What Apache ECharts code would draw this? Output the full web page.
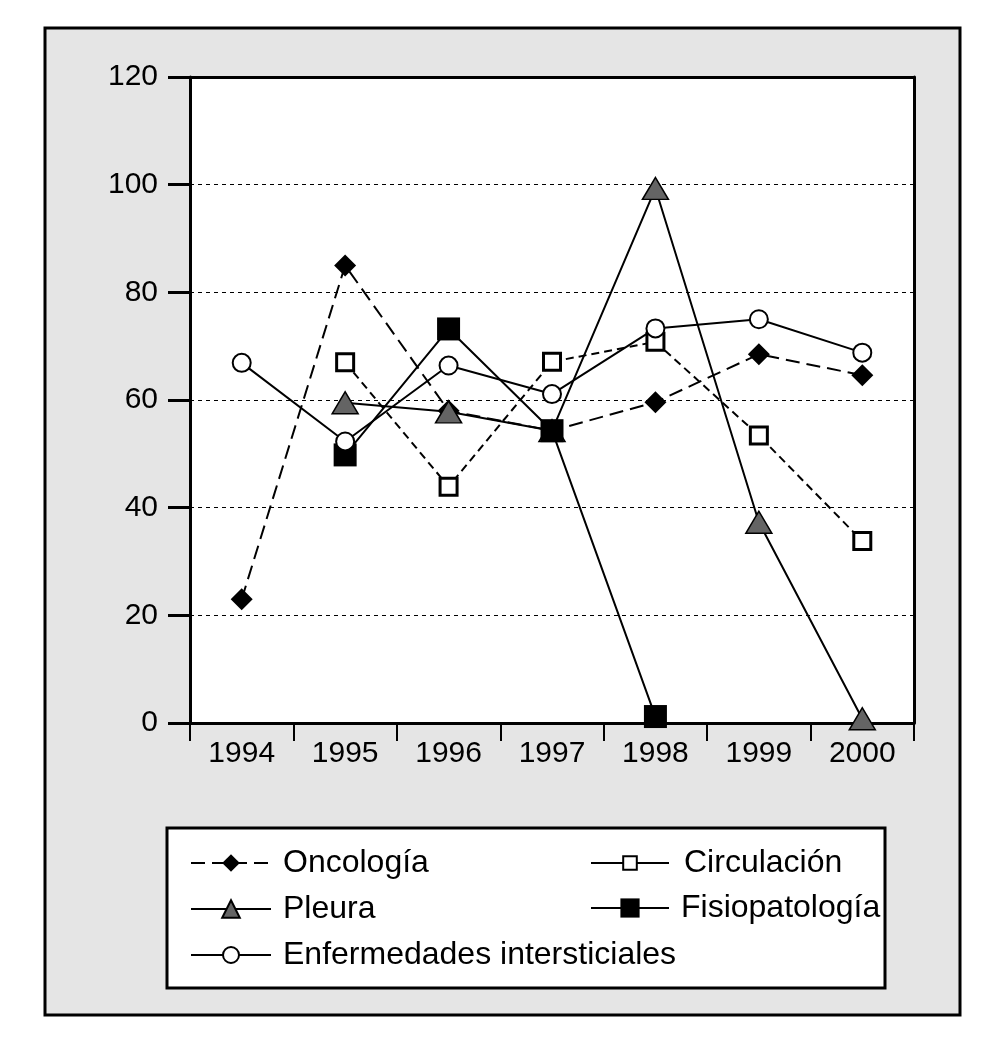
<!DOCTYPE html>
<html>
<head>
<meta charset="utf-8">
<script src="https://cdn.jsdelivr.net/npm/echarts@6/dist/echarts.min.js"></script>
<style>
html,body{margin:0;padding:0;background:#fff;}
#c{width:996px;height:1050px;}
</style>
</head>
<body>
<div id="c"></div>
<script>
const years = ['1994','1995','1996','1997','1998','1999','2000'];
const yTicks = [0, 20, 40, 60, 80, 100, 120];
const oncologia = [23, 85, 58, 54.3, 59.6, 68.5, 64.6];
const circulacion = [null, 67, 43.9, 67.1, 70.8, 53.4, 33.8];
const pleura = [null, 59.5, 57.8, 54.3, 99.3, 37.3, 0.8];
const fisiopatologia = [null, 49.8, 73.2, 54.3, 1.2, null, null];
const enfermedades = [66.9, 52.3, 66.4, 61.1, 73.3, 75.0, 68.8];

const FONT = "'Liberation Sans', Arial, Helvetica, sans-serif";
const chart = echarts.init(document.getElementById('c'), null, {renderer:'canvas'});

function legendFor(name, left, rowY, itemHeight, extra) {
  return Object.assign({
    data: [name],
    orient: 'horizontal',
    left: left,
    top: rowY - 16,
    padding: 0,
    itemWidth: 80,
    itemHeight: itemHeight,
    selectedMode: false,
    textStyle: {fontSize: 32, color: '#000', fontFamily: FONT, padding: [0, 0, 0, 7], lineHeight: 32}
  }, extra || {});
}

const option = {
  animation: false,
  backgroundColor: '#fff',
  textStyle: {fontFamily: FONT},
  graphic: [
    {type: 'rect', z: -10, shape: {x: 45, y: 28, width: 915, height: 987},
     style: {fill: '#e5e5e5', stroke: '#000', lineWidth: 3}},
    {type: 'rect', z: 1, shape: {x: 167, y: 828, width: 718, height: 160},
     style: {fill: '#fff', stroke: '#000', lineWidth: 3}}
  ],
  grid: {left: 190, top: 77, right: 82, bottom: 327, show: true, backgroundColor: '#fff', borderWidth: 0, z: 0},
  xAxis: [{
    type: 'category',
    data: years,
    boundaryGap: true,
    axisLine: {show: true, onZero: false, lineStyle: {color: '#000', width: 3}},
    axisTick: {show: true, length: 18, inside: false, interval: 0, lineStyle: {color: '#000', width: 2}},
    axisLabel: {fontSize: 30, color: '#000', margin: 16, fontFamily: FONT, interval: 0},
    splitLine: {show: false}
  }, {
    type: 'category',
    data: years,
    position: 'top',
    axisLine: {show: true, onZero: false, lineStyle: {color: '#000', width: 3}},
    axisTick: {show: false},
    axisLabel: {show: false},
    splitLine: {show: false}
  }],
  yAxis: [{
    type: 'value',
    min: yTicks[0],
    max: yTicks[yTicks.length - 1],
    interval: 20,
    axisLine: {show: true, onZero: false, lineStyle: {color: '#000', width: 3}},
    axisTick: {show: true, length: 22, inside: false, lineStyle: {color: '#000', width: 3}},
    axisLabel: {fontSize: 30, color: '#000', margin: 32, fontFamily: FONT},
    splitLine: {show: true, lineStyle: {color: '#000', width: 1, type: [4, 4]}}
  }, {
    type: 'value',
    position: 'right',
    min: yTicks[0],
    max: yTicks[yTicks.length - 1],
    interval: 20,
    axisLine: {show: true, onZero: false, lineStyle: {color: '#000', width: 3}},
    axisTick: {show: false},
    axisLabel: {show: false},
    splitLine: {show: false}
  }],
  legend: [
    legendFor('Oncología', 190, 863, 22),
    legendFor('Pleura', 190, 909, 22),
    legendFor('Enfermedades intersticiales', 190, 955, 20),
    legendFor('Circulación', 590, 863, 17, {data: [{name: 'Circulación', lineStyle: {type: 'solid'}}], itemWidth: 78, textStyle: {fontSize: 32, color: '#000', fontFamily: FONT, padding: [0, 0, 0, 10], lineHeight: 32}}),
    legendFor('Fisiopatología', 590, 908, 24, {itemWidth: 78, textStyle: {fontSize: 32, color: '#000', fontFamily: FONT, padding: [0, 0, 0, 7], lineHeight: 32}})
  ],
  series: [
    {
      name: 'Oncología', type: 'line', data: oncologia, z: 3,
      symbol: 'diamond', symbolSize: 22,
      lineStyle: {color: '#000', width: 2, type: [14, 7]},
      itemStyle: {color: '#000', borderColor: '#000', borderWidth: 0}
    },
    {
      name: 'Circulación', type: 'line', data: circulacion, z: 4,
      symbol: 'rect', symbolSize: 17,
      lineStyle: {color: '#000', width: 2, type: [8, 5]},
      itemStyle: {color: '#fff', borderColor: '#000', borderWidth: 3}
    },
    {
      name: 'Pleura', type: 'line', data: pleura, z: 5,
      symbol: 'triangle', symbolSize: [26, 22],
      lineStyle: {color: '#000', width: 2},
      itemStyle: {color: '#646464', borderColor: '#000', borderWidth: 1.5}
    },
    {
      name: 'Fisiopatología', type: 'line', data: fisiopatologia, z: 6,
      symbol: 'rect', symbolSize: 23,
      lineStyle: {color: '#000', width: 2},
      itemStyle: {color: '#000', borderColor: '#000', borderWidth: 0}
    },
    {
      name: 'Enfermedades intersticiales', type: 'line', data: enfermedades, z: 7,
      symbol: 'circle', symbolSize: 18,
      lineStyle: {color: '#000', width: 2},
      itemStyle: {color: '#fff', borderColor: '#000', borderWidth: 2}
    }
  ]
};
chart.setOption(option);
</script>
</body>
</html>
